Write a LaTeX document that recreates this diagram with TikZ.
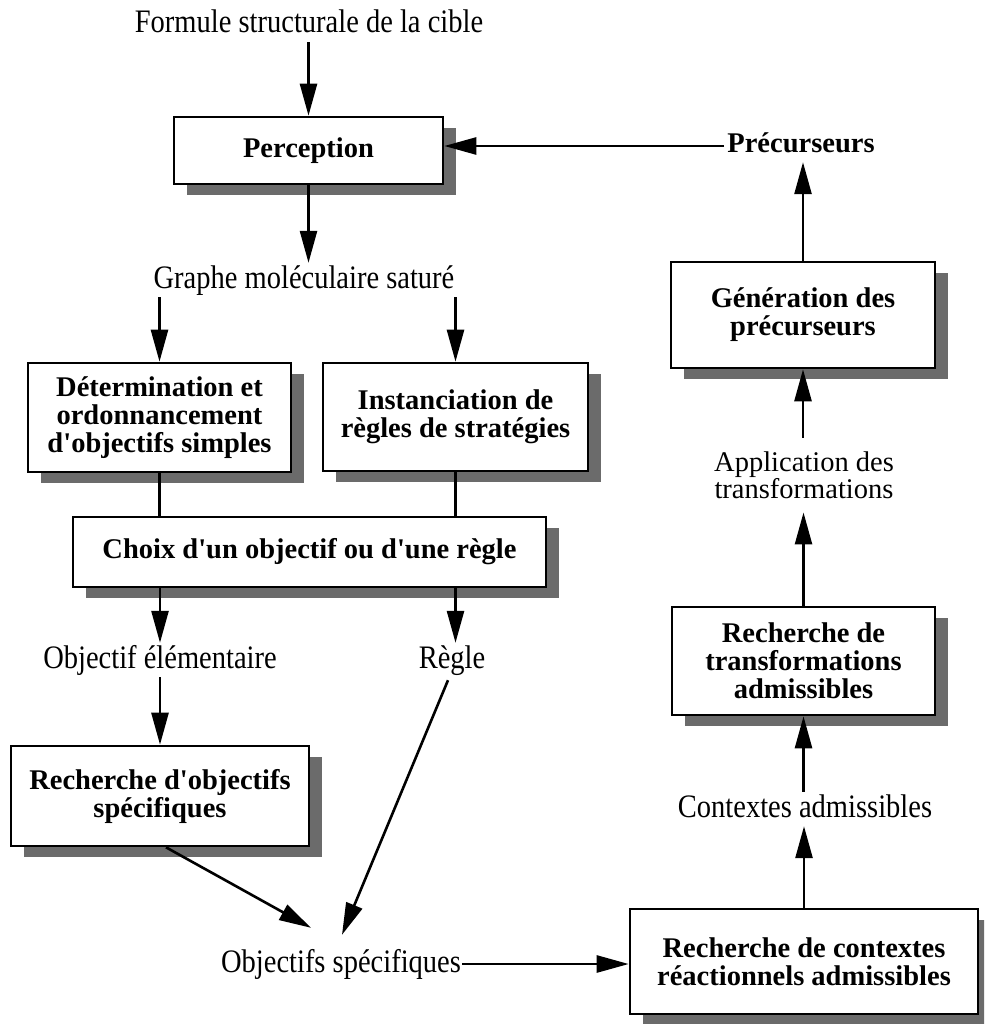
\documentclass[tikz,border=0pt]{standalone}
\usepackage{graphicx}
\usepackage{fontspec}
\newfontfamily\rmf{Liberation Serif}
\newcommand\tallt[1]{\scalebox{1}[1.15]{#1}}
\usetikzlibrary{arrows.meta,shadows}
\begin{document}
\begin{tikzpicture}[x=1pt,y=-1pt,
  every node/.style={font=\rmf\fontsize{28.5}{28}\selectfont},
  box/.style={draw, line width=2.6pt, fill=white, inner sep=0pt, align=center,
    font=\rmf\fontsize{28.5}{28}\selectfont\bfseries,
    general shadow={fill=black!58, shadow xshift=13pt, shadow yshift=-11pt}},
  lbl/.style={inner sep=3pt, text height=22pt, text depth=6pt, anchor=base},
  arr/.style={line width=2.6pt, -{Triangle[length=32pt,width=17pt]}},
  ln/.style={line width=2.6pt}]
\clip (0,0) rectangle (984,1024);
\fill[white] (0,0) rectangle (984,1024);

% boxes
\node[box, minimum width=269pt, minimum height=67pt] (perc) at (308.5,150.5) {Perception};
\node[box, minimum width=263pt, minimum height=109pt] (det) at (159.5,417.5) {Détermination et\\ordonnancement\\d'objectifs simples};
\node[box, minimum width=265pt, minimum height=108pt] (inst) at (455.5,417) {Instanciation de\\règles de stratégies};
\node[box, minimum width=473pt, minimum height=70pt] (choix) at (309.5,552) {Choix d'un objectif ou d'une règle};
\node[box, minimum width=298pt, minimum height=100pt] (ro) at (160,796) {Recherche d'objectifs\\spécifiques};
\node[box, minimum width=348pt, minimum height=105pt] (rc) at (804,961.5) {Recherche de contextes\\réactionnels admissibles};
\node[box, minimum width=263pt, minimum height=108pt] (rt) at (803.5,661) {Recherche de\\transformations\\admissibles};
\node[box, minimum width=264pt, minimum height=106pt] (gen) at (803,315) {Génération des\\précurseurs};

% labels
\node[lbl] (formule) at (309,33) {\tallt{Formule structurale de la cible}};
\node[lbl, text height=20pt, font=\rmf\fontsize{28.5}{28}\selectfont\bfseries] (prec) at (801,153) {Précurseurs};
\node[lbl] (graphe) at (304,288) {\tallt{Graphe moléculaire saturé}};
\node[lbl] (oe) at (160,668) {\tallt{Objectif élémentaire}};
\node[lbl] (regle) at (452,668) {\tallt{Règle}};
\node[lbl, inner ysep=12pt, inner xsep=1pt] (os) at (341,972) {\tallt{Objectifs spécifiques}};
\node[lbl] (ca) at (805,817) {\tallt{Contextes admissibles}};
\node[inner xsep=4pt, inner ysep=13.5pt, align=center,
  font=\rmf\fontsize{28.5}{27.5}\selectfont] (app) at (804,475)
  {Application des\\transformations};

% connectors
\draw[arr] (formule.south -| perc.north) -- (perc.north);
\draw[arr] (perc.south) -- (perc.south |- graphe.north);
\draw[arr] (graphe.south -| det.north) -- (det.north);
\draw[arr] (graphe.south -| inst.north) -- (inst.north);
\draw[ln] (det.south) -- (det.south |- choix.north);
\draw[ln] (inst.south) -- (inst.south |- choix.north);
\draw[arr] (choix.south -| oe.north) -- (oe.north);
\draw[arr] (choix.south -| inst.south) -- (inst.south |- regle.north);
\draw[arr] (oe.south) -- (oe.south |- ro.north);
\draw[arr] ([xshift=6pt]ro.south) -- ([xshift=-30pt,yshift=10pt]os.north);
\draw[arr] ([xshift=-4pt,yshift=-3pt]regle.south) -- ([xshift=1pt,yshift=3pt]os.north);
\draw[arr] (os.east) -- (os.east -| rc.west);
\draw[arr] (rc.north) -- (rc.north |- ca.south);
\draw[arr] (rt.south |- ca.north) -- (rt.south);
\draw[arr] (rt.north) -- (rt.north |- app.south);
\draw[arr] (gen.south |- app.north) -- (gen.south);
\draw[arr] (gen.north) -- (gen.north |- prec.south);
\draw[arr] (prec.west) -- (prec.west -| perc.east);
\end{tikzpicture}
\end{document}
